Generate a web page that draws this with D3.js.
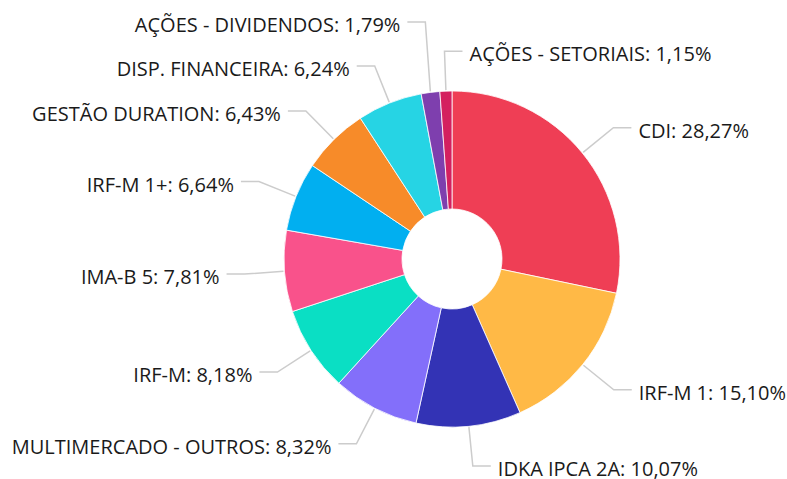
<!DOCTYPE html>
<html><head><meta charset="utf-8">
<script src="https://cdn.jsdelivr.net/npm/d3@7"></script>
<style>
html,body{margin:0;padding:0;background:#fff;}
svg{display:block;}
text{font-family:"Open Sans",sans-serif;}
</style></head>
<body>
<svg id="chart" width="787" height="479"></svg>
<script>
const categories = ["CDI","IRF-M 1","IDKA IPCA 2A","MULTIMERCADO - OUTROS","IRF-M","IMA-B 5","IRF-M 1+","GESTÃO DURATION","DISP. FINANCEIRA","AÇÕES - DIVIDENDOS","AÇÕES - SETORIAIS"];
const values = [28.27,15.10,10.07,8.32,8.18,7.81,6.64,6.43,6.24,1.79,1.15];
const colors = ["#EF3E55","#FFB946","#3333B5","#836FFA","#0ADFC4","#F9528B","#01AFF0","#F78B29","#26D4E4","#7E3FAE","#D4205F"];

const W = 787, H = 479;
const cx = 452, cy = 259, rOuter = 168, rInner = 50, rLabel = 208;
const svg = d3.select("#chart");
const g = svg.append("g").attr("transform", `translate(${cx},${cy})`);

const data = categories.map((c,i)=>({name:c, value:values[i], color:colors[i]}));
const pie = d3.pie().value(d=>d.value).sort(null);
const arcs = pie(data);
const arc = d3.arc().innerRadius(rInner).outerRadius(rOuter);

g.selectAll("path.slice").data(arcs).join("path")
  .attr("class","slice")
  .attr("d", arc)
  .attr("fill", d=>d.data.color)
  .attr("stroke","#fff").attr("stroke-width",0.8);

const fmt = v => v.toFixed(2).replace(".", ",") + "%";

const labels = arcs.map(a=>{
  const ang = (a.startAngle + a.endAngle)/2;
  const side = (a.index === arcs.length-1) ? 1 : (Math.sin(ang) >= 0 ? 1 : -1);
  return {a, ang, side,
    x: Math.sin(ang)*rLabel, y: -Math.cos(ang)*rLabel,
    ex: Math.sin(ang)*(rOuter+1), ey: -Math.cos(ang)*(rOuter+1)};
});
const minGap = 44;
const left = labels.filter(l=>l.side<0).sort((p,q)=>q.y-p.y);
for (let i=1;i<left.length;i++){
  if (left[i-1].y - left[i].y < minGap) left[i].y = left[i-1].y - minGap;
}

const seg = 18;
const lg = g.append("g");
labels.forEach(l=>{
  const hx = l.x + l.side*seg;
  lg.append("path")
    .attr("d", `M${l.ex},${l.ey}L${l.x},${l.y}L${hx},${l.y}`)
    .attr("fill","none").attr("stroke","#cccccc").attr("stroke-width",1.5);
  lg.append("text")
    .attr("x", hx + l.side*7)
    .attr("y", l.y + 3)
    .attr("dy","0.35em")
    .attr("text-anchor", l.side>0 ? "start" : "end")
    .attr("font-size", 20)
    .attr("fill","#1a1a1a")
    .text(`${l.a.data.name}: ${fmt(l.a.data.value)}`);
});
</script>
</body></html>
